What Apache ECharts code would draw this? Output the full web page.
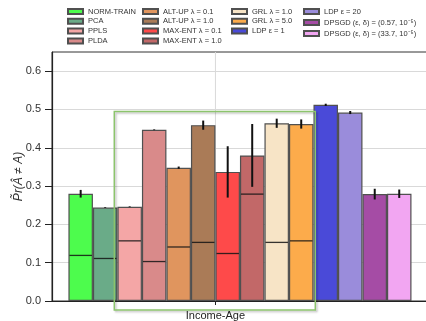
<!DOCTYPE html>
<html>
<head>
<meta charset="utf-8">
<script src="https://cdn.jsdelivr.net/npm/echarts@6/dist/echarts.min.js"></script>
<style>
html,body{margin:0;padding:0;overflow:hidden;background:#fff;width:426px;height:321px}
#grafico{width:440px;height:321px}
</style>
</head>
<body>
<div id="grafico"></div>
<script>
// dados
var metodos = ['NORM-TRAIN', 'PCA', 'PPLS', 'PLDA',
  'ALT-UP λ = 0.1', 'ALT-UP λ = 1.0', 'MAX-ENT λ = 0.1', 'MAX-ENT λ = 1.0',
  'GRL λ = 1.0', 'GRL λ = 5.0', 'LDP ε = 1',
  'LDP ε = 20', 'DPSGD (ε, δ) = (0.57, 10⁻⁵)', 'DPSGD (ε, δ) = (33.7, 10⁻⁵)'];
var cores = ['#4dfc4d', '#6aab88', '#f4a6a6', '#d98a8a',
  '#e0955e', '#aa7b57', '#fe4a4a', '#c26868',
  '#f7e4c6', '#fcab4b', '#4a4ad8',
  '#9a8cdb', '#a54ca5', '#f2a6f2'];
var taxas = [0.280, 0.244, 0.246, 0.447, 0.348, 0.459, 0.337, 0.380, 0.464, 0.462, 0.512, 0.492, 0.279, 0.280];
var erros = [0.010, 0.001, 0.001, 0.001, 0.003, 0.012, 0.067, 0.082, 0.012, 0.012, 0.003, 0.004, 0.014, 0.011];
var linhasInternas = [0.119, 0.111, 0.157, 0.103, 0.141, 0.153, 0.124, 0.279, 0.153, 0.157, null, null, null, null];
var rotuloX = 'Income-Age';
var posRotuloX = 5.5;
var ticksY = [0, 0.1, 0.2, 0.3, 0.4, 0.5, 0.6];

var fonte = '"Liberation Sans", Arial, sans-serif';
var chartDom = document.getElementById('grafico');
var myChart = echarts.init(chartDom);

var series = [];
for (var i = 0; i < metodos.length; i++) {
  series.push({
    name: metodos[i],
    type: 'bar',
    data: [[i, taxas[i]]],
    barWidth: 24.5,
    barGap: '-100%',
    itemStyle: {color: cores[i], borderColor: '#505050', borderWidth: 1.2},
    emphasis: {disabled: true}
  });
}

var marcas = [];
for (var j = 0; j < metodos.length; j++) {
  marcas.push([j, taxas[j], erros[j], linhasInternas[j] == null ? -1 : linhasInternas[j]]);
}

// linha de grade vertical no tick do eixo x
series.push({
  type: 'custom',
  name: 'grade',
  data: [[posRotuloX, 0]],
  z: 0,
  silent: true,
  renderItem: function(params, api){
    var a = api.coord([api.value(0), 0]);
    var b = api.coord([api.value(0), 0.65]);
    return {type: 'line', shape: {x1: a[0], y1: a[1], x2: b[0], y2: b[1]},
      style: {stroke: '#d9d9d9', lineWidth: 1}};
  }
});

// erro e linha interna de cada barra
series.push({
  type: 'custom',
  name: 'marcas',
  data: marcas,
  z: 5,
  silent: true,
  renderItem: function(params, api){
    var x = api.value(0), v = api.value(1), e = api.value(2), l = api.value(3);
    var filhos = [];
    if (l >= 0) {
      var a = api.coord([x - 0.5, l]), b = api.coord([x + 0.5, l]);
      filhos.push({type: 'line', shape: {x1: a[0] + 1, y1: a[1], x2: b[0] - 1, y2: b[1]},
        style: {stroke: 'rgba(20,20,20,0.85)', lineWidth: 1.3}});
    }
    var p1 = api.coord([x, v - e]), p2 = api.coord([x, v + e]);
    filhos.push({type: 'line', shape: {x1: p1[0], y1: p1[1], x2: p2[0], y2: p2[1]},
      style: {stroke: '#111', lineWidth: 2}});
    return {type: 'group', children: filhos};
  }
});

function legenda(itens, esq, topo, gap){
  return {
    data: itens, left: esq, top: topo, orient: 'vertical', padding: 0,
    itemWidth: 15, itemHeight: 5, itemGap: gap, icon: 'rect',
    selectedMode: false,
    textStyle: {fontSize: 7.5, color: '#333', fontFamily: fonte, lineHeight: 7}
  };
}

var option = {
  animation: false,
  backgroundColor: '#fff',
  legend: [
    legenda(metodos.slice(0, 4), 67, 7.5, 1.8),
    legenda(metodos.slice(4, 8), 142, 7.5, 1.8),
    legenda(metodos.slice(8, 11), 231, 7.5, 1.8),
    legenda(metodos.slice(11, 14), 303, 7.5, 3)
  ],
  grid: {left: 52, top: 52, bottom: 20, right: 4, show: true, borderColor: '#333', borderWidth: 1,
    outerBoundsMode: 'none', containLabel: false},
  xAxis: {
    type: 'value', min: -1.17, max: 14.5,
    axisLine: {onZero: false, lineStyle: {color: '#222', width: 1.2}},
    axisTick: {show: true, length: 4, customValues: [posRotuloX], lineStyle: {color: '#222'}},
    axisLabel: {customValues: [posRotuloX], formatter: function(){ return rotuloX; },
      fontSize: 11, color: '#222', fontFamily: fonte, margin: 9},
    splitLine: {show: false}
  },
  yAxis: {
    type: 'value', min: 0, max: 0.65,
    name: 'P̃r(Â ≠ A)', nameLocation: 'middle', nameGap: 27, nameRotate: 90,
    nameMoveOverlap: false,
    nameTextStyle: {fontSize: 12, color: '#333', fontFamily: fonte, fontStyle: 'italic'},
    axisLine: {show: true, onZero: false, lineStyle: {color: '#222', width: 1.2}},
    axisTick: {show: true, length: 7, customValues: ticksY, lineStyle: {color: '#222'}},
    axisLabel: {customValues: ticksY, formatter: function(v){ return v.toFixed(1); },
      fontSize: 11, color: '#333', fontFamily: fonte, margin: 11},
    splitLine: {show: true, lineStyle: {color: '#d9d9d9'}}
  },
  graphic: [{
    type: 'rect', z: 100,
    shape: {x: 114.3, y: 111.5, width: 201, height: 198.5},
    style: {fill: 'none', stroke: '#8cc46c', lineWidth: 1.5,
      shadowBlur: 2, shadowOffsetX: 1.5, shadowOffsetY: 1.5, shadowColor: 'rgba(0,0,0,0.25)'}
  }],
  series: series
};

option && myChart.setOption(option);
</script>
</body>
</html>
